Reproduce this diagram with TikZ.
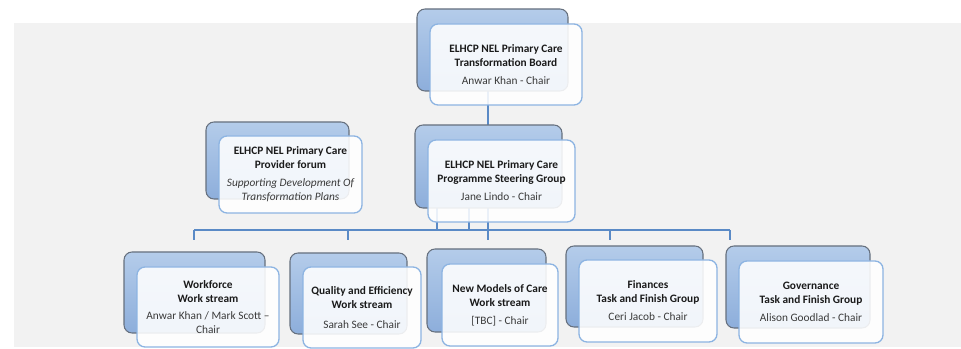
\documentclass[tikz,border=0pt]{standalone}
\usepackage{fontspec}
\setmainfont{Carlito}
\begin{document}
\begin{tikzpicture}[x=0.75pt,y=-0.75pt,
  backbox/.style={draw=backline, line width=0.8pt, rounded corners=6pt, top color=backtop, bottom color=backbot, inner sep=0pt},
  frontbox/.style={draw=frontline, line width=1pt, rounded corners=6pt, fill=white, fill opacity=0.88, text opacity=1, inner sep=0pt, align=center, font=\fontsize{8.5}{10.5}\selectfont, text=titlecol},
  link/.style={draw=linkcol, line width=0.8pt},
  chair/.style={text=chaircol}]
\definecolor{bggray}{HTML}{F2F2F2}
\definecolor{backtop}{HTML}{B4CCEA}
\definecolor{backbot}{HTML}{8DAEDB}
\definecolor{backline}{HTML}{66707E}
\definecolor{frontline}{HTML}{8DB4E2}
\definecolor{linkcol}{HTML}{5A8AC6}
\definecolor{titlecol}{HTML}{1A1A1A}
\definecolor{chaircol}{HTML}{3A3A3A}
\useasboundingbox (0,0) rectangle (961,349);
\fill[bggray] (13.5,23) rectangle (961,347);

% connectors (drawn under the boxes)
\coordinate (busL) at (194,230);
\coordinate (busR) at (730,230);
\coordinate (sgA) at (437,208);
\coordinate (sgB) at (469,208);
\coordinate (sgAb) at (437,230);
\coordinate (sgBb) at (469,230);
\draw[link] (488,91) -- (488,125);
\draw[link] (busL) -- (busR);
\draw[link] (sgA) -- (sgAb) -- (sgBb) -- (sgB);
\draw[link] (488,208) -- (488,240);
\draw[link] (194,230) -- (194,240);
\draw[link] (348,230) -- (348,240);
\draw[link] (610,230) -- (610,240);
\draw[link] (730,230) -- (730,240);

% back boxes
\node[backbox, minimum width=151\pgflinewidth*0+113.25pt, minimum height=61.5pt] (tbB) at (492.5,50) {};
\node[backbox, minimum width=107.25pt, minimum height=57.75pt] (pfB) at (277.5,160.5) {};
\node[backbox, minimum width=110.25pt, minimum height=62.25pt] (sgBk) at (488.5,166.5) {};
\node[backbox, minimum width=105.75pt, minimum height=60.75pt] (wfB) at (194.5,292.5) {};
\node[backbox, minimum width=87.75pt, minimum height=60.75pt] (qeB) at (348.5,293.5) {};
\node[backbox, minimum width=89.25pt, minimum height=62.25pt] (nmB) at (486.5,290.5) {};
\node[backbox, minimum width=102.75pt, minimum height=60.75pt] (fiB) at (634.5,286.5) {};
\node[backbox, minimum width=108pt, minimum height=61.5pt] (goB) at (798,287) {};

% front boxes
\node[frontbox, minimum width=114pt, minimum height=60.75pt] (tb) at (506,64.5)
  {\textbf{ELHCP NEL Primary Care}\\\textbf{Transformation Board}\\[3pt]{\color{chaircol}Anwar Khan - Chair}};
\node[frontbox, minimum width=107.25pt, minimum height=57.75pt] (pf) at (290.5,174.5)
  {\textbf{ELHCP NEL Primary Care}\\\textbf{Provider forum}\\[3pt]{\color{chaircol}\itshape Supporting Development Of}\\{\color{chaircol}\itshape Transformation Plans}};
\node[frontbox, minimum width=110.25pt, minimum height=61.5pt] (sg) at (501.5,181)
  {\textbf{ELHCP NEL Primary Care}\\\textbf{Programme Steering Group}\\[3pt]{\color{chaircol}Jane Lindo - Chair}};
\node[frontbox, minimum width=106.5pt, minimum height=60pt] (wf) at (208,307)
  {\textbf{Workforce}\\\textbf{Work stream}\\[2pt]{\color{chaircol}Anwar Khan / Mark Scott --}\\{\color{chaircol}Chair}};
\node[frontbox, minimum width=88.5pt, minimum height=60.75pt] (qe) at (362,307.5)
  {\textbf{Quality and Efficiency}\\\textbf{Work stream}\\[4pt]{\color{chaircol}Sarah See - Chair}};
\node[frontbox, minimum width=87pt, minimum height=61.5pt] (nm) at (500,305)
  {\textbf{New Models of Care}\\\textbf{Work stream}\\[3pt]{\color{chaircol}[TBC] - Chair}};
\node[frontbox, minimum width=103.5pt, minimum height=61.5pt] (fi) at (648,301)
  {\textbf{Finances}\\\textbf{Task and Finish Group}\\[3pt]{\color{chaircol}Ceri Jacob - Chair}};
\node[frontbox, minimum width=108pt, minimum height=61.5pt] (go) at (811,302)
  {\textbf{Governance}\\\textbf{Task and Finish Group}\\[3pt]{\color{chaircol}Alison Goodlad - Chair}};
\end{tikzpicture}
\end{document}
